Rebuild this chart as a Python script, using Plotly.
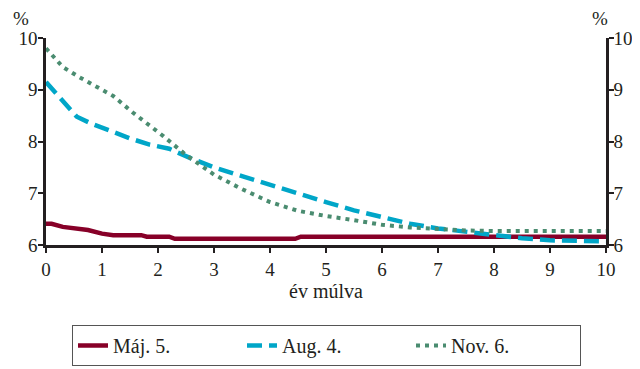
import plotly.graph_objects as go

# Data (years ahead vs %)
maj_x = [0, 0.1, 0.3, 0.5, 0.75, 1.0, 1.2, 1.7, 1.8, 2.2, 2.3, 4.45, 4.55, 6, 8, 10]
maj_y = [6.41, 6.41, 6.35, 6.32, 6.29, 6.22, 6.19, 6.19, 6.16, 6.16, 6.12, 6.12, 6.16, 6.16, 6.16, 6.16]

aug_x = [0, 0.3, 0.55, 0.8, 1.15, 1.5, 1.85, 2.2, 2.6, 3.0, 3.5, 4.0, 4.5, 5.0, 5.5, 6.0, 6.5, 7.0, 7.5, 8.0, 8.5, 9.0, 9.5, 10]
aug_y = [9.15, 8.8, 8.48, 8.35, 8.2, 8.06, 7.94, 7.86, 7.67, 7.5, 7.33, 7.16, 6.98, 6.83, 6.67, 6.53, 6.41, 6.32, 6.25, 6.19, 6.13, 6.09, 6.07, 6.07]

nov_x = [0, 0.3, 0.6, 0.9, 1.2, 1.55, 1.8, 2.1, 2.5, 3.0, 3.5, 4.0, 4.5, 5.0, 5.5, 6.0, 6.5, 7.0, 7.5, 8.0, 9.0, 10]
nov_y = [9.8, 9.44, 9.24, 9.07, 8.88, 8.56, 8.36, 8.1, 7.74, 7.36, 7.08, 6.83, 6.66, 6.56, 6.48, 6.39, 6.34, 6.31, 6.28, 6.27, 6.27, 6.27]

x_ticks = list(range(0, 11))
y_ticks = [6, 7, 8, 9, 10]

serif = "Liberation Serif, DejaVu Serif, Times New Roman, serif"
font = dict(family=serif, size=19, color="#231F20")
big_font = dict(family=serif, size=20, color="#231F20")
axis_col = "#231F20"

fig = go.Figure()

fig.add_trace(go.Scatter(x=maj_x, y=maj_y, mode="lines", name="Máj. 5.",
                         line=dict(color="#870028", width=4.5)))
fig.add_trace(go.Scatter(x=aug_x, y=aug_y, mode="lines", name="Aug. 4.",
                         line=dict(color="#00A6C8", width=4.5, dash="15px,7px")))
fig.add_trace(go.Scatter(x=nov_x, y=nov_y, mode="lines", name="Nov. 6.",
                         line=dict(color="#4A8C70", width=4, dash="4px,5px")))
# invisible trace to carry the right-hand axis
fig.add_trace(go.Scatter(x=[0], y=[6], yaxis="y2", mode="markers",
                         marker=dict(opacity=0), showlegend=False, hoverinfo="skip"))

axis_common = dict(ticks="outside", ticklen=5, tickwidth=2, tickcolor=axis_col,
                   showline=True, linecolor=axis_col, linewidth=2.5,
                   showgrid=False, zeroline=False, automargin=False, tickfont=font)

# the page body adds an 8px offset, so the margins are shifted to compensate
fig.update_layout(
    width=640, height=369,
    margin=dict(l=38, r=42, t=30, b=132),
    paper_bgcolor="white", plot_bgcolor="white",
    font=font,
    showlegend=True,
    legend=dict(orientation="h", x=64 / 640, y=(369 - 317) / 369, xref="container", yref="container",
                xanchor="left", yanchor="top",
                bordercolor="#555", borderwidth=1, entrywidth=124,
                font=big_font),
    xaxis=dict(range=[0, 10], tickvals=x_ticks,
               title=dict(text="év múlva", standoff=0, font=big_font), **axis_common),
    yaxis=dict(range=[6, 10], tickvals=y_ticks, ticklabelstandoff=-3, **axis_common),
    yaxis2=dict(range=[6, 10], tickvals=y_ticks, overlaying="y", side="right",
                ticklabelstandoff=-4, **axis_common),
)

fig.add_annotation(text="%", xref="paper", yref="paper", x=-0.045, y=1.035,
                   xanchor="center", yanchor="bottom", showarrow=False, font=font)
fig.add_annotation(text="%", xref="paper", yref="paper", x=0.99, y=1.035,
                   xanchor="center", yanchor="bottom", showarrow=False, font=font)

fig.write_html("out.html")
